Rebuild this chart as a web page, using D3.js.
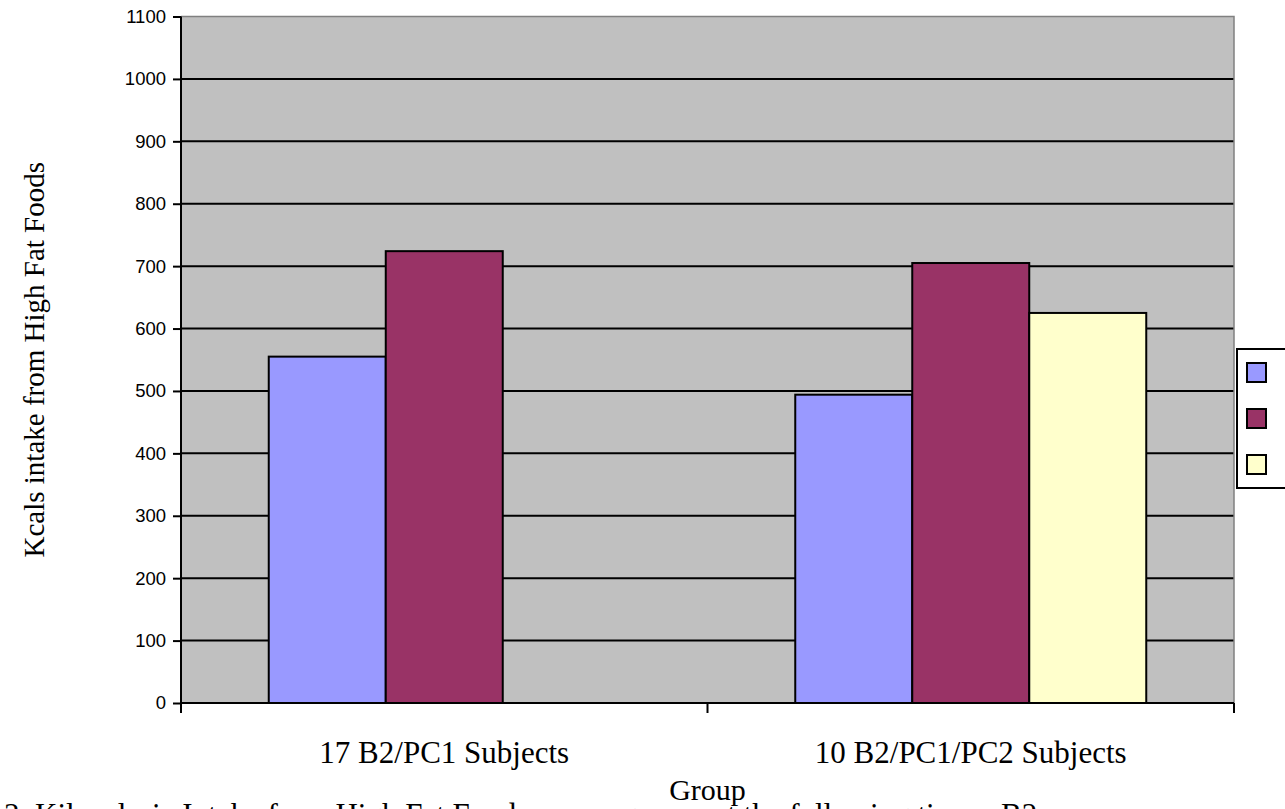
<!DOCTYPE html>
<html>
<head>
<meta charset="utf-8">
<script src="https://cdn.jsdelivr.net/npm/d3@7"></script>
<style>
  html, body { margin: 0; padding: 0; background: #fff; overflow: hidden; }
  svg { display: block; }
</style>
</head>
<body>
<svg id="chart" width="1285" height="809"></svg>
<script>
// ---- data ----
const categories = ["17 B2/PC1 Subjects", "10 B2/PC1/PC2 Subjects"];
const seriesNames = ["B2", "PC1", "PC2"];
const seriesColors = ["#9999FF", "#993366", "#FFFFCC"];
const valuesB2  = [555, 494];
const valuesPC1 = [724, 705];
const valuesPC2 = [null, 625];
const yTicks = [0, 100, 200, 300, 400, 500, 600, 700, 800, 900, 1000, 1100];
const yTitle = "Kcals intake from High Fat Foods";
const xTitle = "Group";
const caption = "3. Kilocalorie Intake from High Fat Foods across groups at the following times: B2,";

const seriesValues = [valuesB2, valuesPC1, valuesPC2];

// ---- layout ----
const L = 181, R = 1234, T = 16.5, B = 703;
const svg = d3.select("#chart");

const x = d3.scaleBand().domain(categories).range([L, R]).paddingInner(1/3).paddingOuter(1/6);
const xs = d3.scaleBand().domain(seriesNames).range([0, x.bandwidth()]);
const y = d3.scaleLinear().domain([0, 1100]).range([B, T]);

// plot area
svg.append("rect").attr("x", L).attr("y", T).attr("width", R - L).attr("height", B - T)
  .attr("fill", "#C0C0C0");

// gridlines
svg.append("g").selectAll("line").data(yTicks.filter(d => d > 0 && d < 1100)).join("line")
  .attr("x1", L).attr("x2", R).attr("y1", d => y(d)).attr("y2", d => y(d))
  .attr("stroke", "#000").attr("stroke-width", 2);

// top/right border (grey)
svg.append("path").attr("d", `M${L},${y(1100)}H${R}V${B}`)
  .attr("fill", "none").attr("stroke", "#808080").attr("stroke-width", 1.5);

// bars
const rows = [];
categories.forEach((c, i) => {
  seriesNames.forEach((s, j) => {
    const v = seriesValues[j][i];
    if (v != null) rows.push({ c, s, v, color: seriesColors[j] });
  });
});
svg.append("g").selectAll("rect").data(rows).join("rect")
  .attr("x", d => x(d.c) + xs(d.s))
  .attr("y", d => y(d.v))
  .attr("width", xs.bandwidth())
  .attr("height", d => y(0) - y(d.v))
  .attr("fill", d => d.color)
  .attr("stroke", "#000").attr("stroke-width", 2);

// y axis
const yAxis = d3.axisLeft(y).tickValues(yTicks).tickSize(8).tickPadding(7).tickFormat(d3.format("d"));
const gy = svg.append("g").attr("transform", `translate(${L},0)`).call(yAxis);
gy.select(".domain").attr("stroke", "#000").attr("stroke-width", 2).attr("d", `M0,${y(1100)}V${B}`);
gy.selectAll(".tick line").attr("stroke", "#000").attr("stroke-width", 2);
gy.selectAll(".tick text").attr("font-family", "Liberation Sans, Arial, sans-serif")
  .attr("font-size", 18.5).attr("fill", "#000");

// x axis
const half = (x.step() - x.bandwidth()) / 2;
const bounds = [x(categories[0]) - half].concat(categories.map(c => x(c) + x.bandwidth() + half));
const gx = svg.append("g");
gx.append("line").attr("x1", L - 1).attr("x2", R).attr("y1", B).attr("y2", B)
  .attr("stroke", "#000").attr("stroke-width", 2);
gx.selectAll("line.tk").data(bounds).join("line").attr("class", "tk")
  .attr("x1", d => d).attr("x2", d => d).attr("y1", B).attr("y2", B + 10)
  .attr("stroke", "#000").attr("stroke-width", 2);
gx.selectAll("text").data(categories).join("text")
  .attr("x", d => x(d) + x.bandwidth() / 2).attr("y", 763)
  .attr("text-anchor", "middle")
  .attr("font-family", "Liberation Serif, Times New Roman, serif").attr("font-size", 31)
  .text(d => d);

// axis titles
svg.append("text").attr("transform", `translate(44,${(T + B) / 2}) rotate(-90)`)
  .attr("text-anchor", "middle")
  .attr("font-family", "Liberation Serif, Times New Roman, serif").attr("font-size", 29)
  .text(yTitle);
svg.append("text").attr("x", (L + R) / 2).attr("y", 800).attr("text-anchor", "middle")
  .attr("font-family", "Liberation Serif, Times New Roman, serif").attr("font-size", 30)
  .text(xTitle);

// caption (partly cut off at the bottom, as in the original)
svg.append("text").attr("x", 4).attr("y", 825)
  .attr("font-family", "Liberation Serif, Times New Roman, serif").attr("font-size", 31)
  .text(caption);

// legend (cut off at the right edge, as in the original)
const lg = svg.append("g");
lg.append("rect").attr("x", 1237).attr("y", 349).attr("width", 120).attr("height", 139)
  .attr("fill", "#fff").attr("stroke", "#000").attr("stroke-width", 2);
const li = lg.selectAll("g").data(seriesNames).join("g")
  .attr("transform", (d, i) => `translate(1247,${363 + i * 46})`);
li.append("rect").attr("width", 19).attr("height", 19)
  .attr("fill", (d, i) => seriesColors[i]).attr("stroke", "#000").attr("stroke-width", 2);
li.append("text").attr("x", 45).attr("y", 16)
  .attr("font-family", "Liberation Sans, Arial, sans-serif").attr("font-size", 18)
  .text(d => d);
</script>
</body>
</html>
